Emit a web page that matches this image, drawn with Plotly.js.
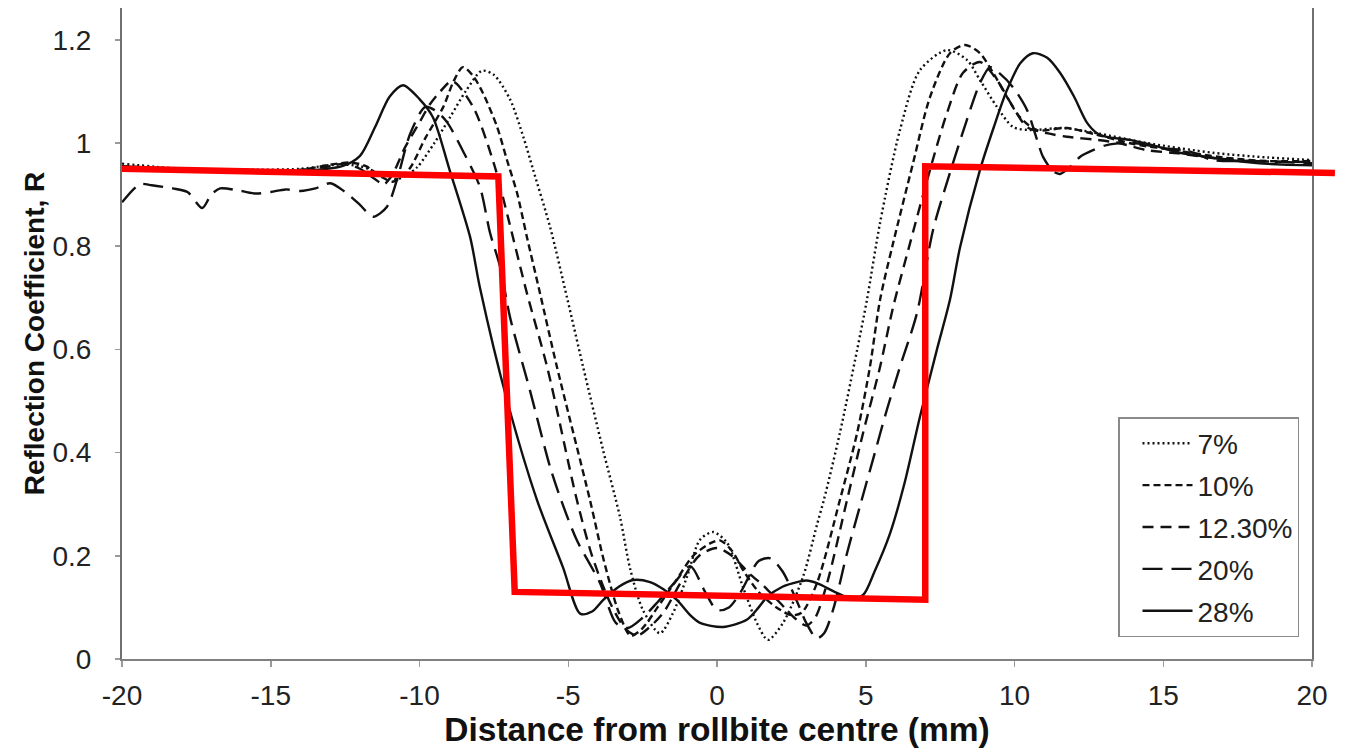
<!DOCTYPE html>
<html>
<head>
<meta charset="utf-8">
<script src="https://cdn.plot.ly/plotly-3.0.1.min.js"></script>
<style>
  html, body { margin: 0; padding: 0; background: #ffffff; }
  #chart { width: 1345px; height: 753px; }
</style>
</head>
<body>
<div id="chart"></div>
<script>
// ---- Data ----
const seriesNames = ["7%", "10%", "12.30%", "20%", "28%"];

const x7 = [-20, -18, -16, -14, -12.8, -12, -11.3, -10.8, -10.5, -10.08, -9.5, -8.97, -8.45, -7.9, -7.5, -6.96, -6.5, -6.18, -5.61, -5.04, -4.5, -3.83, -3.26, -2.92, -2.49, -1.92, -1.48, -1.01, -0.57, -0.13, 0.34, 0.87, 1.34, 1.71, 2.22, 2.89, 3.36, 3.6, 4.13, 4.71, 5.04, 5.48, 6.15, 6.82, 7.73, 8.4, 8.84, 9.41, 9.95, 10.52, 11.63, 12.77, 14.45, 16.67, 18.5, 20];
const y7 = [0.96, 0.95, 0.948, 0.95, 0.958, 0.955, 0.94, 0.93, 0.935, 0.953, 1.0, 1.05, 1.1, 1.14, 1.132, 1.085, 1.01, 0.948, 0.837, 0.7, 0.566, 0.405, 0.275, 0.175, 0.095, 0.05, 0.089, 0.159, 0.231, 0.246, 0.225, 0.14, 0.07, 0.037, 0.07, 0.159, 0.26, 0.31, 0.438, 0.599, 0.696, 0.845, 1.025, 1.141, 1.18, 1.161, 1.122, 1.07, 1.031, 1.025, 1.029, 1.019, 1.0, 0.981, 0.972, 0.967];

const x10 = [-20, -18, -16, -14, -13, -12.3, -11.8, -11.3, -10.9, -10.6, -10.3, -9.8, -9.2, -8.85, -8.54, -8.2, -7.87, -7.39, -7.06, -6.72, -6.39, -5.95, -5.38, -4.27, -3.8, -3.3, -2.9, -2.5, -2.0, -1.4, -0.8, -0.2, 0.1, 0.5, 0.9, 1.4, 2.0, 2.5, 2.85, 3.36, 4.13, 4.71, 5.14, 5.48, 5.92, 6.59, 7.16, 7.83, 8.34, 8.84, 9.28, 9.75, 10.18, 10.76, 11.76, 12.77, 14, 15.5, 17, 18.5, 20];
const y10 = [0.955, 0.95, 0.947, 0.948, 0.958, 0.962, 0.955, 0.935, 0.925, 0.935, 0.953, 1.01, 1.07, 1.12, 1.147, 1.13, 1.097, 1.031, 0.967, 0.903, 0.818, 0.709, 0.566, 0.308, 0.19, 0.09, 0.045, 0.06, 0.1, 0.15, 0.2, 0.225, 0.23, 0.21, 0.17, 0.13, 0.1, 0.085, 0.09, 0.147, 0.308, 0.438, 0.566, 0.696, 0.806, 0.961, 1.089, 1.174, 1.19, 1.174, 1.136, 1.089, 1.05, 1.025, 1.029, 1.016, 0.998, 0.985, 0.972, 0.965, 0.965];

const x12 = [-20, -18, -16, -14, -13, -12.5, -12, -11.5, -11.2, -10.9, -10.5, -10, -9.65, -9.3, -8.9, -8.2, -7.5, -7.0, -6.39, -5.71, -4.71, -4.2, -3.6, -3.1, -2.7, -2.3, -1.8, -1.2, -0.6, 0.0, 0.5, 1.1, 1.6, 2.1, 2.6, 3.0, 3.3, 3.7, 4.37, 4.91, 5.48, 5.92, 6.49, 7.16, 7.73, 8.27, 8.84, 9.41, 9.95, 10.42, 11.09, 11.76, 12.77, 13.5, 14.45, 15.5, 16.67, 18, 20];
const y12 = [0.955, 0.948, 0.945, 0.948, 0.955, 0.96, 0.95, 0.93, 0.92, 0.94, 0.99, 1.04, 1.075, 1.1, 1.12, 1.07, 0.96, 0.85, 0.709, 0.566, 0.308, 0.2, 0.11, 0.06, 0.045, 0.06, 0.09, 0.15, 0.2, 0.215, 0.2, 0.165, 0.14, 0.11, 0.08, 0.065, 0.08, 0.147, 0.308, 0.438, 0.566, 0.682, 0.806, 0.948, 1.058, 1.136, 1.157, 1.122, 1.07, 1.031, 1.019, 1.012, 1.006, 1.0, 0.986, 0.98, 0.971, 0.965, 0.963];

const x20 = [-20, -19.4, -19, -18.3, -17.8, -17.3, -17.0, -16.7, -16, -15.5, -15, -14.5, -14, -13.5, -13.0, -12.5, -12.0, -11.56, -11.1, -10.76, -10.3, -9.8, -9.4, -9.07, -8.5, -7.97, -7.63, -7.29, -6.96, -6.29, -5.61, -5.24, -4.71, -3.93, -3.4, -3.0, -2.5, -2.0, -1.4, -0.9, -0.4, 0.0, 0.4, 0.8, 1.4, 1.8, 2.2, 2.7, 3.0, 3.35, 3.6, 3.9, 4.37, 4.8, 5.24, 5.71, 6.15, 6.72, 7.26, 7.83, 8.4, 8.84, 9.18, 9.5, 9.95, 10.42, 10.76, 10.96, 11.3, 11.53, 11.9, 12.2, 12.64, 13.1, 13.98, 15, 15.8, 16.67, 18, 20];
const y20 = [0.885, 0.92, 0.918, 0.912, 0.905, 0.874, 0.9, 0.912, 0.907, 0.902, 0.905, 0.91, 0.907, 0.912, 0.922, 0.905, 0.88, 0.857, 0.876, 0.928, 1.02, 1.07, 1.06, 1.04, 0.98, 0.915, 0.826, 0.76, 0.663, 0.521, 0.372, 0.308, 0.23, 0.147, 0.07, 0.06, 0.08, 0.11, 0.15, 0.18, 0.13, 0.095, 0.1, 0.13, 0.19, 0.195, 0.17, 0.11, 0.07, 0.04, 0.05, 0.095, 0.205, 0.295, 0.386, 0.483, 0.566, 0.67, 0.831, 0.942, 1.045, 1.116, 1.147, 1.135, 1.108, 1.064, 1.006, 0.973, 0.945, 0.94, 0.955, 0.973, 0.986, 0.996, 1.0, 0.99, 0.985, 0.967, 0.965, 0.961];

const x28 = [-20, -17, -14, -12.6, -12.0, -11.5, -11.0, -10.55, -10.0, -9.55, -9.0, -8.3, -7.97, -7.06, -6.05, -5.18, -4.6, -4.2, -3.83, -3.3, -2.82, -2.25, -1.8, -1.34, -0.9, -0.57, 0.2, 1.0, 1.4, 1.68, 2.2, 2.69, 3.0, 3.36, 4.03, 4.5, 4.91, 5.3, 5.82, 6.3, 6.82, 7.39, 7.83, 8.17, 8.84, 9.3, 9.75, 10.2, 10.62, 11.1, 11.53, 12.0, 12.44, 12.8, 13.1, 13.88, 14.7, 15.56, 16.6, 17.8, 19, 20];
const y28 = [0.95, 0.947, 0.946, 0.955, 0.975, 1.03, 1.09, 1.112, 1.085, 1.05, 0.95, 0.818, 0.72, 0.502, 0.308, 0.178, 0.088, 0.092, 0.114, 0.14, 0.153, 0.149, 0.135, 0.114, 0.085, 0.07, 0.062, 0.076, 0.1, 0.12, 0.14, 0.149, 0.152, 0.147, 0.128, 0.118, 0.124, 0.17, 0.244, 0.34, 0.469, 0.599, 0.696, 0.798, 0.948, 1.03, 1.103, 1.155, 1.174, 1.165, 1.136, 1.09, 1.039, 1.018, 1.012, 1.006, 0.995, 0.981, 0.972, 0.963, 0.958, 0.957];

// red overlay polyline
const redX = [-20, -7.35, -6.8, 7.0, 7.0, 20.77];
const redY = [0.95, 0.935, 0.13, 0.115, 0.955, 0.942];

const xTickVals = [-20, -15, -10, -5, 0, 5, 10, 15, 20];
const xTickText = ["-20", "-15", "-10", "-5", "0", "5", "10", "15", "20"];
const yTickVals = [0, 0.2, 0.4, 0.6, 0.8, 1, 1.2];
const yTickText = ["0", "0.2", "0.4", "0.6", "0.8", "1", "1.2"];

// ---- Chart ----
const FONT = "Liberation Sans, Arial, Helvetica, sans-serif";
const dashes = ["2px,3px", "7px,4px", "11px,7px", "20px,9px", "solid"];
const xs = [x7, x10, x12, x20, x28];
const ys = [y7, y10, y12, y20, y28];

const traces = seriesNames.map((name, i) => ({
  type: "scatter",
  mode: "lines",
  name: name,
  legendgroup: "g" + i,
  x: xs[i],
  y: ys[i],
  xaxis: "x",
  yaxis: "y",
  line: { color: "#111111", width: 2.4, dash: dashes[i], shape: "spline", smoothing: 0.8 },
  hoverinfo: "skip"
}));

traces.push({
  type: "scatter",
  mode: "lines",
  name: "red",
  x: redX,
  y: redY,
  xaxis: "x2",
  yaxis: "y2",
  showlegend: false,
  line: { color: "#ff0000", width: 6.5 },
  hoverinfo: "skip"
});

const plotW = 1345 - 122 - 10;
const yRange = [0, 1.2616];
const layout = {
  width: 1345,
  height: 753,
  margin: { l: 122, r: 10, t: 8, b: 94, pad: 0 },
  paper_bgcolor: "#ffffff",
  plot_bgcolor: "rgba(0,0,0,0)",
  font: { family: FONT, color: "#222222", size: 28 },
  showlegend: true,
  legend: {
    x: (1118 - 122) / plotW,
    y: (659 - 417) / 651,
    xanchor: "left",
    yanchor: "top",
    bgcolor: "#ffffff",
    bordercolor: "#8a8a8a",
    borderwidth: 1.5,
    font: { family: FONT, size: 28, color: "#222222" },
    itemwidth: 50,
    indentation: 18,
    tracegroupgap: 2.5
  },
  xaxis: {
    domain: [0, 1190 / plotW],
    range: [-20, 20],
    tickvals: xTickVals,
    ticktext: xTickText,
    ticks: "outside",
    ticklen: 6,
    tickwidth: 1.5,
    tickcolor: "#9a9a9a",
    showline: true,
    linecolor: "#808080",
    linewidth: 2,
    showgrid: false,
    zeroline: false,
    tickfont: { family: FONT, size: 28, color: "#222222" },
    ticklabelstandoff: 4,
    title: { text: "<b>Distance from rollbite centre (mm)</b>", font: { family: FONT, size: 33.5, color: "#111111" }, standoff: 6 },
    anchor: "y",
    fixedrange: true
  },
  yaxis: {
    domain: [0, 1],
    range: yRange,
    tickvals: yTickVals,
    ticktext: yTickText,
    ticks: "outside",
    ticklen: 5,
    tickwidth: 1.5,
    tickcolor: "#9a9a9a",
    showline: true,
    mirror: true,
    linecolor: "#707070",
    linewidth: 2,
    showgrid: false,
    zeroline: false,
    tickfont: { family: FONT, size: 28, color: "#222222" },
    ticklabelstandoff: 18,
    title: { text: "<b>Reflection Coefficient, R</b>", font: { family: FONT, size: 28, color: "#111111" }, standoff: 0 },
    anchor: "x",
    fixedrange: true
  },
  xaxis2: {
    domain: [0, 1],
    range: [-20, -20 + plotW / 29.75],
    anchor: "y2",
    visible: false,
    showline: false,
    showgrid: false,
    zeroline: false,
    fixedrange: true
  },
  yaxis2: {
    domain: [0, 1],
    range: yRange,
    anchor: "x2",
    visible: false,
    showline: false,
    showgrid: false,
    zeroline: false,
    fixedrange: true
  }
};

Plotly.newPlot("chart", traces, layout, { displayModeBar: false, staticPlot: true });
</script>
</body>
</html>
